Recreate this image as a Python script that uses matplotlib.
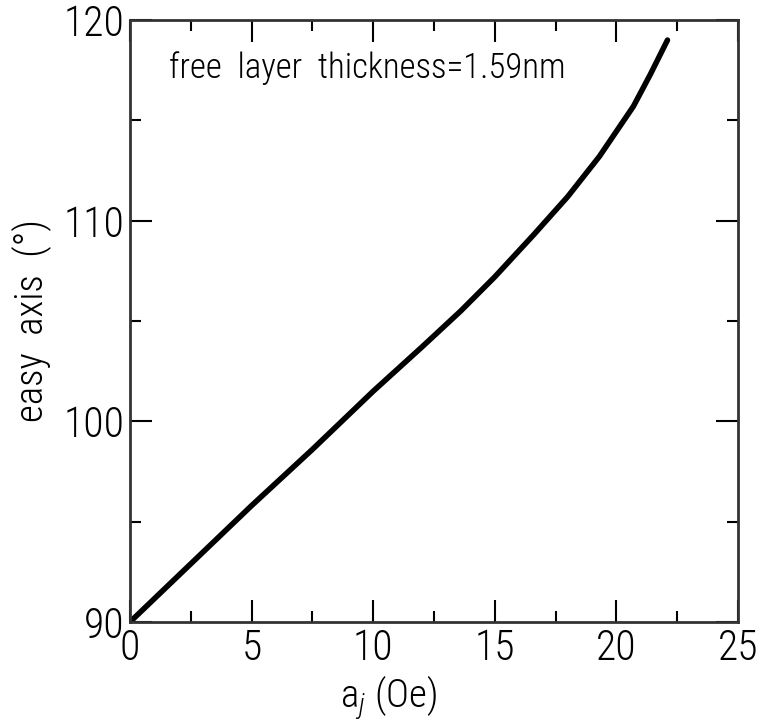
import matplotlib
matplotlib.use("Agg")
import matplotlib.pyplot as plt
from matplotlib.ticker import MultipleLocator

# values
a_j = [0, 2.5, 5, 7.5, 10, 12, 13.6, 15, 16.6, 18, 19.3, 20.7, 21.4, 22.1]
easy_axis = [90, 92.9, 95.8, 98.6, 101.5, 103.7, 105.5, 107.2, 109.3, 111.2,
             113.2, 115.7, 117.3, 119.0]

plt.rcParams['font.family'] = ['Roboto Condensed', 'DejaVu Sans']
plt.rcParams['font.weight'] = 'light'
plt.rcParams['axes.labelweight'] = 'light'
plt.rcParams['mathtext.fontset'] = 'custom'
plt.rcParams['mathtext.rm'] = 'Roboto Condensed:light'
plt.rcParams['mathtext.it'] = 'Roboto Condensed:italic:light'

fig = plt.figure(figsize=(7.57, 7.28), dpi=100)
ax = fig.add_axes([130 / 757, 1 - 622 / 728, 608 / 757, 602 / 728])

ax.plot(a_j, easy_axis, color='black', linewidth=4, solid_capstyle='round',
        solid_joinstyle='round')

ax.set_xlim(0, 25)
ax.set_ylim(90, 120)
ax.xaxis.set_major_locator(MultipleLocator(5))
ax.xaxis.set_minor_locator(MultipleLocator(2.5))
ax.yaxis.set_major_locator(MultipleLocator(10))
ax.yaxis.set_minor_locator(MultipleLocator(5))
ax.tick_params(which='both', direction='in', top=True, right=True, width=1.5,
               labelsize=30, colors='black')
ax.tick_params(which='major', length=16, pad=4)
ax.tick_params(which='minor', length=8)
for s in ax.spines.values():
    s.set_linewidth(2)
    s.set_color('#333333')

ax.set_xlabel(r'$\mathrm{a}_j$ (Oe)', fontsize=28, labelpad=3, fontweight='light')
ax.xaxis.set_label_coords(0.425, -0.085)
ax.set_ylabel('easy  axis  (°)', fontsize=28, labelpad=8, fontweight='light')
ax.text(1.6, 117.6, 'free  layer  thickness=1.59nm', fontsize=25, va='center')

fig.savefig('out.png', dpi=100)
